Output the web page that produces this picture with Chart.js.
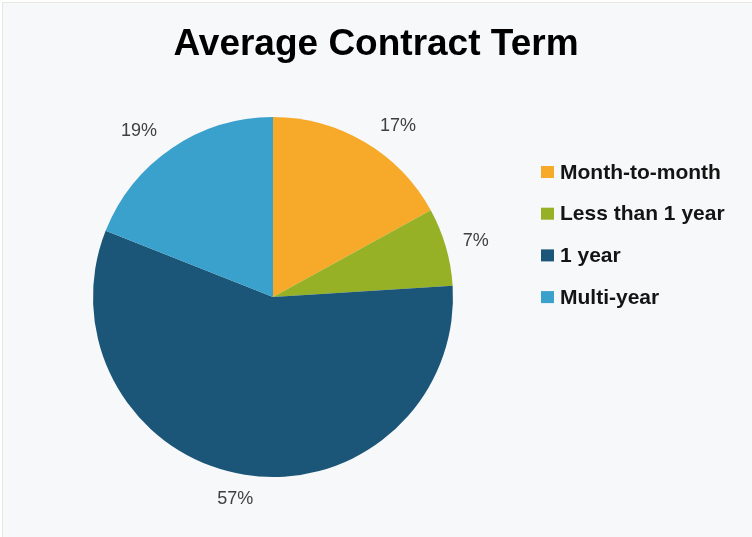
<!DOCTYPE html>
<html>
<head>
<meta charset="utf-8">
<script src="https://cdn.jsdelivr.net/npm/chart.js@4.4.1/dist/chart.umd.min.js"></script>
<style>
  html, body { margin: 0; padding: 0; background: #ffffff; }
  #wrap { position: relative; width: 752px; height: 537px; }
</style>
</head>
<body>
<div id="wrap"><canvas id="chart" width="752" height="537"></canvas></div>
<script>
const titleText = "Average Contract Term";
const categories = ["Month-to-month", "Less than 1 year", "1 year", "Multi-year"];
const shares = [17, 7, 57, 19];
const sliceColors = ["#F7A929", "#97B127", "#1B5577", "#3AA0CC"];

const fontFamily = "'Liberation Sans', Arial, sans-serif";
// small shifts of the outside labels, like the best-fit placement in the original
const labelNudge = [[18, 10], [1, 3], [-5, -5], [-16, 8]];

// background + faint frame line on top/left
const backdrop = {
  id: "backdrop",
  beforeDraw(chart) {
    const ctx = chart.ctx;
    ctx.save();
    ctx.fillStyle = "#ffffff";
    ctx.fillRect(0, 0, chart.width, chart.height);
    ctx.fillStyle = "#F6F8F9";
    ctx.fillRect(3, 3, chart.width - 3, chart.height - 3);
    ctx.fillStyle = "#E7E8E0";
    ctx.fillRect(2, 2, chart.width - 2, 1);
    ctx.fillRect(2, 2, 1, chart.height - 2);
    ctx.restore();
  },
};

// title, outside percent labels and the legend on the right
const decorations = {
  id: "decorations",
  afterDraw(chart) {
    const ctx = chart.ctx;
    ctx.save();

    ctx.fillStyle = "#000000";
    ctx.font = `bold 37px ${fontFamily}`;
    ctx.textAlign = "center";
    ctx.textBaseline = "middle";
    ctx.fillText(titleText, 376, 45);

    const meta = chart.getDatasetMeta(0);
    ctx.font = `18px ${fontFamily}`;
    ctx.fillStyle = "#404040";
    meta.data.forEach((arc, i) => {
      const mid = (arc.startAngle + arc.endAngle) / 2;
      const dist = arc.outerRadius + 30;
      const x = arc.x + Math.cos(mid) * dist + labelNudge[i][0];
      const y = arc.y + Math.sin(mid) * dist + labelNudge[i][1];
      ctx.fillText(`${shares[i]}%`, x, y);
    });

    ctx.font = `bold 21px ${fontFamily}`;
    ctx.textAlign = "left";
    const legendX = 541;
    const legendTop = 172;
    const step = 41.7;
    categories.forEach((label, i) => {
      const y = legendTop + i * step;
      ctx.fillStyle = sliceColors[i];
      ctx.fillRect(legendX, y - 6, 13, 12);
      ctx.fillStyle = "#141414";
      ctx.fillText(label, legendX + 19, y + 1);
    });

    ctx.restore();
  },
};

new Chart(document.getElementById("chart"), {
  type: "pie",
  data: {
    labels: categories,
    datasets: [
      {
        data: shares,
        backgroundColor: sliceColors,
        borderWidth: 0,
      },
    ],
  },
  options: {
    responsive: false,
    animation: false,
    layout: {
      padding: { left: 93, right: 299, top: 117, bottom: 60 },
    },
    plugins: {
      legend: { display: false },
      title: { display: false },
      tooltip: { enabled: false },
    },
  },
  plugins: [backdrop, decorations],
});
</script>
</body>
</html>
